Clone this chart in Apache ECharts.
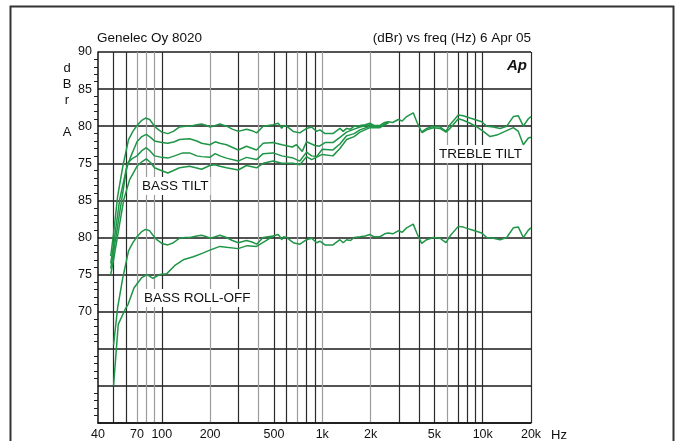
<!DOCTYPE html>
<html><head><meta charset="utf-8">
<script src="https://cdn.jsdelivr.net/npm/echarts@6/dist/echarts.min.js"></script>
<style>html,body{margin:0;padding:0;background:#fff}#c{width:678px;height:441px}</style>
</head><body><div id="c"></div><script>
// ---- axis ticks / labels ----
const xGridValues = [40,50,60,70,80,90,100,200,300,400,500,600,700,800,900,1000,2000,3000,4000,5000,6000,7000,8000,9000,10000,20000];
const xLabelValues = [40,70,100,200,500,1000,2000,5000,10000,20000];
const lowerOffset = 15; // lower panel labels are 15 dB above their position

// ---- flat response (upper panel top curve, also lower panel flat curve) ----
const flatFreq = [48,50,53,57,62,66,70,75,79,84,88,93,100,109,118,129,140,150,165,177,190,200,215,230,253,275,300,337,365,390,428,494,531,545,558,575,599,659,725,798,858,922,966,1040,1165,1288,1350,1418,1500,1580,1717,1850,1982,2100,2288,2450,2578,2750,2975,3150,3357,3690,3900,4164,4476,4920,5415,5905,6252,7045,7568,8336,9857,10593,11648,12824,14116,15520,16675,17919,19255,20000];
const flatDb = [62.5,65.5,70.5,74.5,78.2,79.3,80.1,80.8,81.1,80.9,80.3,79.7,79.2,79.0,79.3,79.9,80.0,80.0,80.2,80.3,80.1,79.9,80.1,80.3,80.0,79.6,79.3,79.6,79.4,79.1,80.0,80.2,80.4,80.1,79.7,80.1,80.0,79.3,79.1,79.7,79.9,79.3,79.5,79.0,79.0,79.7,79.3,79.7,79.6,80.0,80.1,80.2,80.4,80.1,80.1,80.5,80.6,80.5,80.9,80.7,81.3,81.8,80.5,79.2,79.7,80.0,79.9,79.3,80.2,81.5,81.4,81.1,80.6,80.0,79.9,79.7,80.0,81.3,81.4,80.0,81.0,81.3];

// ---- bass tilt curves ----
const tilt1Freq = [48,50,54.6,60,64,70,75,80,85,90,100,109,120,129,149,165,177,199,215,230,253,299,337,389,428,494,560,650,690,750,798,900,960,1040,1165,1288,1418,1580,1717,1982,2288,2578];
const tilt1Db  = [61.5,64.0,70.1,74.2,75.9,77.9,78.6,78.9,78.5,78.0,77.8,77.7,77.9,78.2,78.3,78.0,77.7,77.5,77.9,77.7,77.5,76.8,77.3,76.8,77.7,77.8,77.5,77.2,77.5,76.6,77.9,77.4,77.3,77.8,77.8,78.5,79.2,79.6,79.9,80.2,79.9,80.5];
const tilt2Freq = [48,50,56.2,61,65,70,75,80,85,90,100,109,120,135,149,165,177,199,215,230,253,299,337,389,428,494,560,659,725,798,858,922,1000,1165,1288,1418,1580,1717,1982,2288,2578];
const tilt2Db  = [60.8,63.0,70.1,75.0,75.6,76.0,76.7,77.1,76.6,76.0,75.8,75.7,76.0,76.4,76.4,76.0,75.9,75.8,76.3,76.0,75.7,75.3,75.8,75.5,76.3,76.4,76.0,75.7,75.3,76.5,76.0,75.9,76.9,76.8,77.6,78.7,79.0,79.5,80.0,79.9,80.5];
const tilt3Freq = [48,50,57.9,63,70,75,80,85,90,100,109,120,129,149,177,199,215,230,253,299,337,389,428,494,560,659,725,798,858,1000,1165,1288,1418,1580,1717,1982,2288,2578];
const tilt3Db  = [60.0,62.0,70.1,72.8,74.6,75.2,75.6,75.1,74.4,74.0,73.7,74.1,74.4,74.6,74.2,74.7,74.8,74.6,74.4,74.1,74.7,74.4,75.0,75.3,75.0,75.0,74.8,75.9,75.5,76.2,76.0,77.0,78.2,78.6,79.2,79.8,79.8,80.5];

// ---- treble tilt curve ----
const trebleFreq = [4164,4476,4920,5415,5905,6252,7045,7568,8336,9200,10086,11108,12231,13780,15520,16675,17919,19255,20000];
const trebleDb  = [79.1,79.5,79.8,79.7,79.2,79.7,81.0,80.8,80.4,79.9,79.3,78.6,78.8,79.3,79.8,79.3,77.5,78.4,78.5];

// ---- bass roll-off curve (lower panel, label scale) ----
const rolloffFreq = [50,53.5,59,61.6,67,75,81,88,97,107,120,136,157,180,199,230,299,340,389,449,494];
const rolloffDb  = [60.0,68.3,70.3,71.0,73.2,74.6,75.0,74.5,75.0,75.1,76.2,77.0,77.4,77.9,78.3,78.8,78.5,78.9,78.8,79.6,80.2];

const GREEN = '#1f9547';
const FONT = "'Liberation Sans', Arial, sans-serif";

function pairs(fs, ds, shift) {
  const out = [];
  for (let i = 0; i < fs.length; i++) out.push([fs[i], ds[i] - (shift || 0)]);
  return out;
}
function lineSeries(data) {
  return { type: 'line', data: data, showSymbol: false, symbol: 'none', smooth: false,
    lineStyle: { color: GREEN, width: 1.5 }, z: 5, silent: true };
}
const lowerFlat = pairs(flatFreq, flatDb, lowerOffset).filter(p => p[0] >= 50);

// vertical grid line colours (mimic the print: some lines lighter), starting at 50 Hz
const G = '#9c9c9c', K = '#2a2a2a';
const vColors = [K,K,G,G,G,K,G,K,G,K,K,G,K,K,G,G,K,K,K,G,K,K,K,K,K];

const chart = echarts.init(document.getElementById('c'), null, { renderer: 'canvas' });
chart.setOption({
  animation: false,
  backgroundColor: '#fff',
  grid: { left: 98, right: 147, top: 52, bottom: 17, containLabel: false },
  xAxis: {
    type: 'log', logBase: 10, min: 40, max: 20000,
    axisLine: { show: true, lineStyle: { color: '#111', width: 1.5 } },
    axisTick: { show: false, customValues: xGridValues },
    minorTick: { show: false }, minorSplitLine: { show: false },
    splitLine: { show: true, showMinLine: false, lineStyle: { color: vColors, width: 1.2 } },
    axisLabel: {
      customValues: xLabelValues, margin: 5, color: '#111', fontFamily: FONT, fontSize: 12.5,
      formatter: v => v >= 1000 ? (v / 1000) + 'k' : String(v)
    }
  },
  yAxis: {
    type: 'value', min: 40, max: 90, interval: 5,
    axisLine: { show: true, lineStyle: { color: '#111', width: 1.5 } },
    axisTick: { show: false },
    minorTick: { show: true, splitNumber: 5, length: 4, lineStyle: { color: '#222', width: 1 } },
    splitLine: { show: true, lineStyle: { color: '#1a1a1a', width: 1.5 } },
    axisLabel: {
      margin: 6, color: '#111', fontFamily: FONT, fontSize: 12.5,
      formatter: v => v >= 75 ? String(v) : (v >= 55 ? String(v + lowerOffset) : '')
    }
  },
  series: [
    lineSeries(pairs(flatFreq, flatDb)),
    lineSeries(pairs(tilt1Freq, tilt1Db)),
    lineSeries(pairs(tilt2Freq, tilt2Db)),
    lineSeries(pairs(tilt3Freq, tilt3Db)),
    lineSeries(pairs(trebleFreq, trebleDb)),
    lineSeries(lowerFlat),
    lineSeries(pairs(rolloffFreq, rolloffDb, lowerOffset))
  ],
  graphic: [
    { type: 'rect', shape: { x: 10.5, y: 6.5, width: 663, height: 460 }, style: { fill: 'none', stroke: '#333', lineWidth: 2 }, z: 0, silent: true },
    { type: 'text', x: 97, y: 38, style: { text: 'Genelec Oy 8020', font: '13.5px ' + FONT, fill: '#111', verticalAlign: 'middle', align: 'left' } },
    { type: 'text', x: 531, y: 38, style: { text: '(dBr) vs freq (Hz) 6 Apr 05', font: '13.5px ' + FONT, fill: '#111', verticalAlign: 'middle', align: 'right' } },
    { type: 'text', x: 527, y: 66, style: { text: 'Ap', font: 'italic bold 15px ' + FONT, fill: '#111', verticalAlign: 'middle', align: 'right' } },
    { type: 'text', x: 67, y: 61, style: { text: 'd\nB\nr\n\nA', font: '13px ' + FONT, lineHeight: 15.8, fill: '#111', align: 'center', verticalAlign: 'top' } },
    { type: 'text', x: 559, y: 435, style: { text: 'Hz', font: '13px ' + FONT, fill: '#111', align: 'center', verticalAlign: 'middle' } },
    { type: 'text', x: 140, y: 186, z: 3, style: { text: 'BASS TILT', font: '13.5px ' + FONT, fill: '#111', backgroundColor: '#fff', padding: [2, 2, 2, 2], align: 'left', verticalAlign: 'middle' } },
    { type: 'text', x: 524, y: 154, z: 3, style: { text: 'TREBLE TILT', font: '13.5px ' + FONT, fill: '#111', backgroundColor: '#fff', padding: [2, 2, 2, 2], align: 'right', verticalAlign: 'middle' } },
    { type: 'text', x: 142, y: 298, z: 3, style: { text: 'BASS ROLL-OFF', font: '13.5px ' + FONT, fill: '#111', backgroundColor: '#fff', padding: [2, 2, 2, 2], align: 'left', verticalAlign: 'middle' } }
  ]
});
</script></body></html>
